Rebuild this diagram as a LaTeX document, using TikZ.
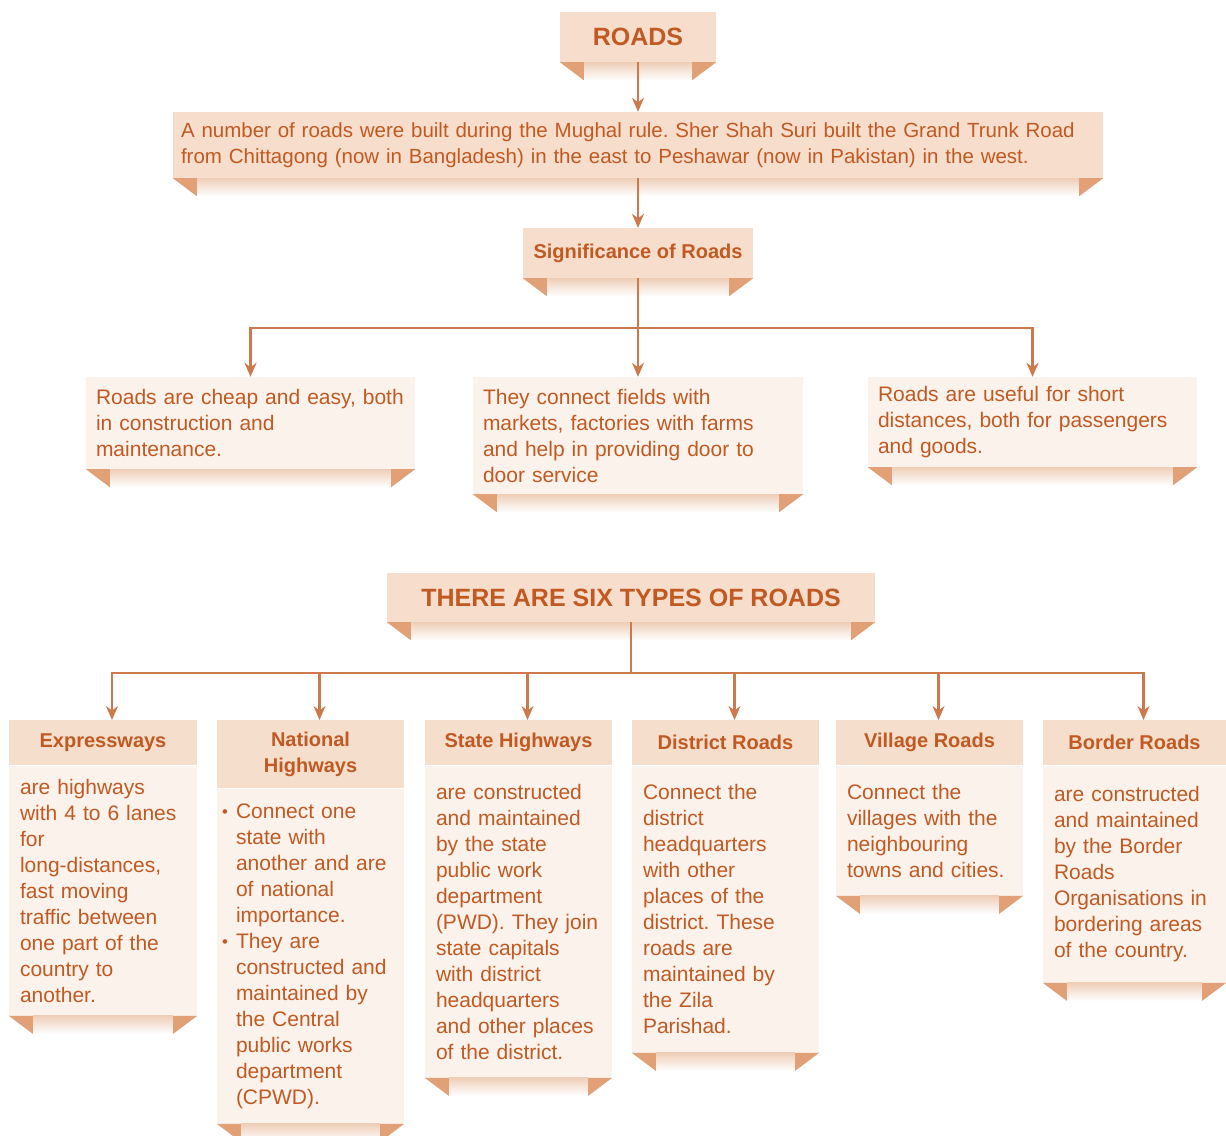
\documentclass[tikz,border=0pt]{standalone}
\usepackage{fontspec}
\setmainfont{Liberation Sans}
\usepackage{tikz}
\usetikzlibrary{arrows.meta}
\frenchspacing
\definecolor{roadtext}{RGB}{192,90,34}
\definecolor{roadline}{RGB}{204,122,76}
\definecolor{roadpeach}{RGB}{247,221,203}
\definecolor{roadhead}{RGB}{245,222,204}
\definecolor{roadpale}{RGB}{251,242,236}
\definecolor{roadfold}{RGB}{226,160,118}
\definecolor{roadshade}{RGB}{238,206,184}
\newcommand\roadbullet{\makebox[14pt][l]{\raisebox{1pt}{\scalebox{0.8}{\textbullet}}}}
\newcommand\roadindent{\hspace*{14pt}}

\begin{document}
\begin{tikzpicture}[x=1pt, y=-1pt,
  every node/.style={text=roadtext, inner sep=0pt},
  titlebox/.style={fill=roadpeach, font=\bfseries\fontsize{25}{30}\selectfont},
  notebox/.style={fill=roadpeach, align=left, inner xsep=8pt, font=\fontsize{20.5}{26}\selectfont},
  factbox/.style={fill=roadpale, align=left, inner xsep=10pt, font=\fontsize{21}{26}\selectfont},
  headbox/.style={fill=roadhead, anchor=north, align=center, font=\bfseries\fontsize{20}{26}\selectfont},
  bodybox/.style={fill=roadpale, anchor=north, align=left, inner xsep=11pt, font=\fontsize{21}{26}\selectfont},
  link/.style={draw=roadline, line width=2.2pt, -{Stealth[length=14pt,width=12pt]}},
  bus/.style={draw=roadline, line width=2.2pt}]
\path[use as bounding box, fill=white] (0,0) rectangle (1226,1135);

\node[titlebox, minimum width=156, minimum height=50] (roads) at (638,37) {ROADS};
\node[notebox, minimum width=930, minimum height=66, text width=914] (mughal) at (638,145) {A number of roads were built during the Mughal rule. Sher Shah Suri built the Grand Trunk Road\\from Chittagong (now in Bangladesh) in the east to Peshawar (now in Pakistan) in the west.};
\node[titlebox, font=\bfseries\fontsize{20}{24}\selectfont, minimum width=230, minimum height=50] (signif) at (638,253) {Significance of Roads};

\node[factbox, minimum width=329, minimum height=92, text width=309] (cheap) at (250.5,423) {Roads are cheap and easy, both\\in construction and\\maintenance.};
\node[factbox, minimum width=330, minimum height=117, text width=310] (door) at (638,435.5) {They connect fields with\\markets, factories with farms\\and help in providing door to\\door service};
\node[factbox, minimum width=329, minimum height=90, text width=309] (short) at (1032.5,422) {Roads are useful for short\\distances, both for passengers\\and goods.};

\node[titlebox, minimum width=488, minimum height=49] (types) at (631,597.5) {THERE ARE SIX TYPES OF ROADS};

\node[headbox, minimum width=188, minimum height=45] (exp) at (103,720) {Expressways};
\node[bodybox, minimum width=188, text width=166, minimum height=250] (expbody) at (exp.south) {are highways\\with 4 to 6 lanes\\for\\long-distances,\\fast moving\\traffic between\\one part of the\\country to\\another.};

\node[headbox, minimum width=187, minimum height=68] (nat) at (310.5,720) {National\\Highways};
\node[bodybox, inner xsep=5pt, minimum width=187, text width=177, minimum height=335] (natbody) at (nat.south) {\roadbullet Connect one\\\roadindent state with\\\roadindent another and are\\\roadindent of national\\\roadindent importance.\\\roadbullet They are\\\roadindent constructed and\\\roadindent maintained by\\\roadindent the Central\\\roadindent public works\\\roadindent department\\\roadindent (CPWD).};

\node[headbox, minimum width=187, minimum height=45] (state) at (518.5,720) {State Highways};
\node[bodybox, minimum width=187, text width=165, minimum height=312] (statebody) at (state.south) {are constructed\\and maintained\\by the state\\public work\\department\\(PWD). They join\\state capitals\\with district\\headquarters\\and other places\\of the district.};

\node[headbox, minimum width=187, minimum height=45] (dist) at (725.5,720) {District Roads};
\node[bodybox, minimum width=187, text width=165, minimum height=287] (distbody) at (dist.south) {Connect the\\district\\headquarters\\with other\\places of the\\district. These\\roads are\\maintained by\\the Zila\\Parishad.};

\node[headbox, minimum width=187, minimum height=45] (vill) at (929.5,720) {Village Roads};
\node[bodybox, minimum width=187, text width=165, minimum height=130] (villbody) at (vill.south) {Connect the\\villages with the\\neighbouring\\towns and cities.};

\node[headbox, minimum width=183, minimum height=45] (border) at (1134.5,720) {Border Roads};
\node[bodybox, minimum width=183, text width=161, minimum height=217] (borderbody) at (border.south) {are constructed\\and maintained\\by the Border\\Roads\\Organisations in\\bordering areas\\of the country.};

\foreach \f in {roads,mughal,signif,cheap,door,short,types,expbody,natbody,statebody,distbody,villbody,borderbody}{
  \shade[top color=roadshade, bottom color=white] ([xshift=24pt]\f.south west) rectangle ([xshift=-24pt,yshift=-18pt]\f.south east);
  \fill[roadfold] (\f.south west) -- ++(24,0) -- ++(0,18) -- cycle;
  \fill[roadfold] (\f.south east) -- ++(-24,0) -- ++(0,18) -- cycle;
}

\coordinate (sigbus) at (638,328);
\coordinate (typebus) at (631,673);

\draw[link] (roads) -- (mughal);
\draw[link] (mughal) -- (signif);
\draw[bus] (signif) -- (sigbus);
\draw[link] (sigbus) -| (cheap);
\draw[link] (sigbus) -- (door);
\draw[link] (sigbus) -| (short);
\draw[bus] (types) -- (typebus);
\foreach \t in {exp,nat,state,dist,vill,border}
  \draw[link] (typebus) -| ([xshift=9pt]\t.north);
\end{tikzpicture}
\end{document}
